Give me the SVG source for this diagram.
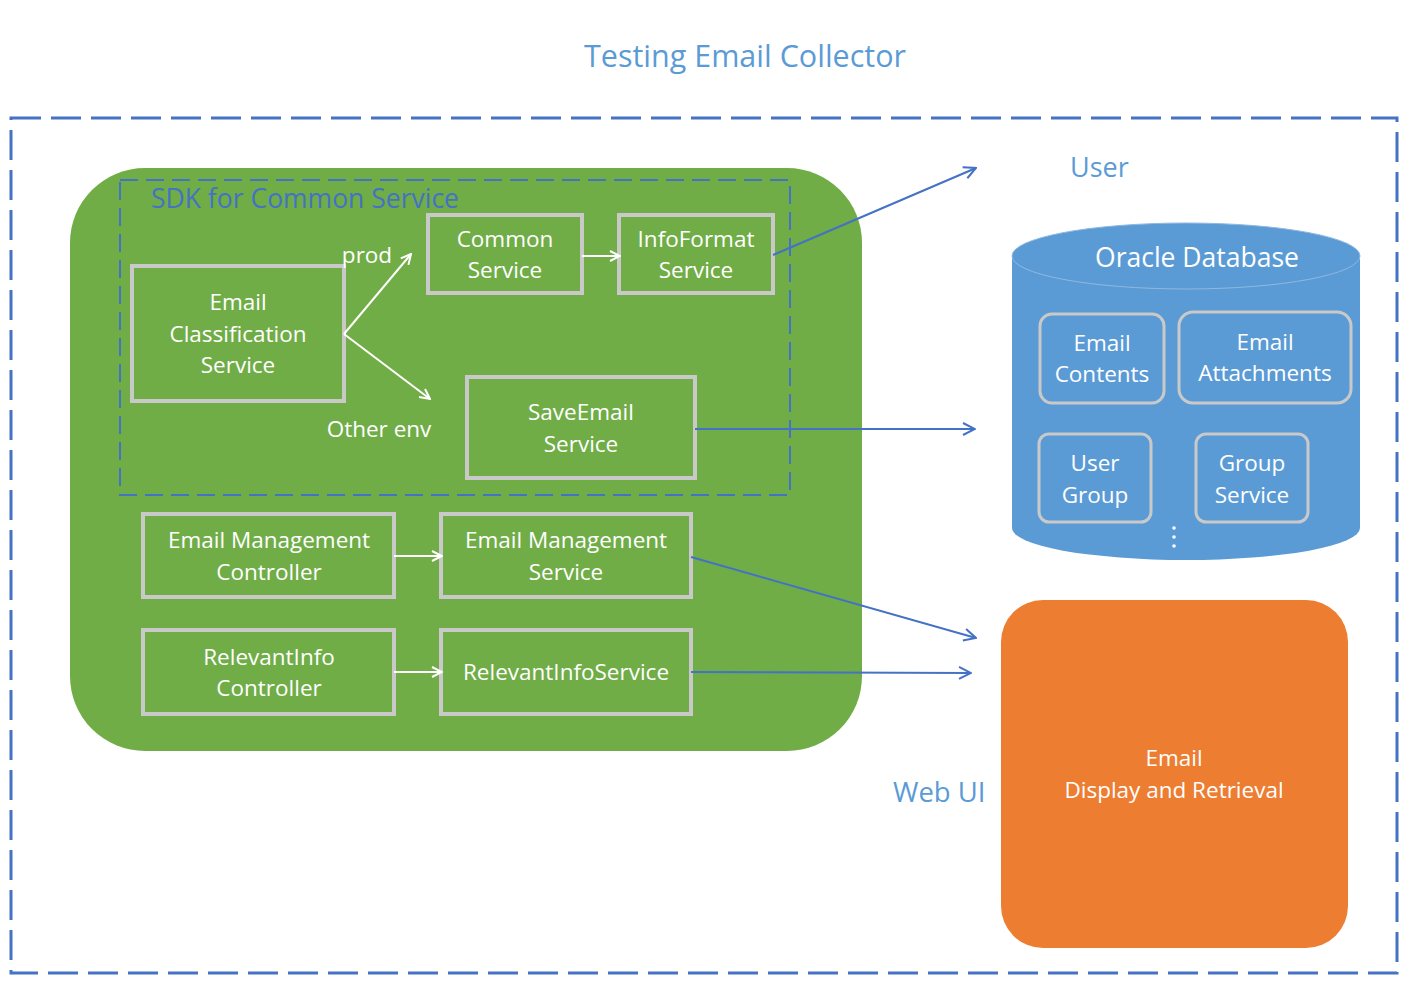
<svg xmlns="http://www.w3.org/2000/svg" width="1412" height="988" viewBox="0 0 1412 988">
<defs>
<style>
.t{font-family:"Open Sans","Noto Sans",sans-serif;font-size:22.5px;fill:#fff;text-anchor:middle}
.lbl{font-family:"Open Sans","Noto Sans",sans-serif;fill:#5B9BD5}
.box{fill:#70AD47;stroke:#C9C9C9;stroke-width:4}
.db{fill:#5B9BD5;stroke:#C9C9C9;stroke-width:3}
.wl{stroke:#fff;stroke-width:2;fill:none}
.bl{stroke:#4472C4;stroke-width:2;fill:none}
</style>
<marker id="aw" viewBox="0 0 12 12" refX="11" refY="6" markerWidth="12" markerHeight="12" markerUnits="userSpaceOnUse" orient="auto">
<path d="M1,1 L11,6 L1,11" fill="none" stroke="#fff" stroke-width="2"/>
</marker>
<marker id="ab" viewBox="0 0 14 14" refX="13" refY="7" markerWidth="14" markerHeight="14" markerUnits="userSpaceOnUse" orient="auto">
<path d="M1,1 L13,7 L1,13" fill="none" stroke="#4472C4" stroke-width="2"/>
</marker>
</defs>
<rect width="1412" height="988" fill="#fff"/>
<text class="lbl" x="745" y="67" font-size="30.5" text-anchor="middle">Testing Email Collector</text>
<rect x="11" y="118" width="1386" height="855" fill="none" stroke="#4472C4" stroke-width="3" stroke-dasharray="30,10"/>
<g id="platform">
<rect x="70" y="168" width="792" height="583" rx="75" ry="75" fill="#70AD47"/>
</g>
<g id="sdk">
<rect x="120" y="180" width="670" height="315" fill="none" stroke="#4472C4" stroke-width="2" stroke-dasharray="18,8"/>
<text x="151" y="208" font-family="Open Sans, Noto Sans, sans-serif" font-size="26.5" fill="#4472C4">SDK for Common Service</text>
</g>
<g id="ecs"><rect class="box" x="132" y="266" width="212" height="135"/>
<text class="t" x="238" y="310">Email</text><text class="t" x="238" y="342">Classification</text><text class="t" x="238" y="373">Service</text></g>
<g id="cs"><rect class="box" x="428" y="215" width="154" height="78"/>
<text class="t" x="505" y="247">Common</text><text class="t" x="505" y="278">Service</text></g>
<g id="ifs"><rect class="box" x="619" y="215" width="154" height="78"/>
<text class="t" x="696" y="247">InfoFormat</text><text class="t" x="696" y="278">Service</text></g>
<g id="ses"><rect class="box" x="467" y="377" width="228" height="101"/>
<text class="t" x="581" y="420">SaveEmail</text><text class="t" x="581" y="452">Service</text></g>
<g id="emc"><rect class="box" x="143" y="514" width="251" height="83"/>
<text class="t" x="269" y="548">Email Management</text><text class="t" x="269" y="580">Controller</text></g>
<g id="ems"><rect class="box" x="441" y="514" width="250" height="83"/>
<text class="t" x="566" y="548">Email Management</text><text class="t" x="566" y="580">Service</text></g>
<g id="ric"><rect class="box" x="143" y="630" width="251" height="84"/>
<text class="t" x="269" y="665">RelevantInfo</text><text class="t" x="269" y="696">Controller</text></g>
<g id="ris"><rect class="box" x="441" y="630" width="250" height="84"/>
<text class="t" x="566" y="680">RelevantInfoService</text></g>
<g id="oracle">
<path d="M1012,256 L1012,528 A174,32 0 0 0 1360,528 L1360,256 Z" fill="#5B9BD5"/>
<ellipse cx="1186" cy="256" rx="174" ry="33" fill="#5B9BD5" stroke="#8FB8E0" stroke-width="1"/>
<text x="1197" y="267" font-family="Open Sans, Noto Sans, sans-serif" font-size="26.5" fill="#fff" text-anchor="middle">Oracle Database</text>
<rect class="db" x="1040" y="314" width="124" height="89" rx="12"/>
<text class="t" x="1102" y="351">Email</text><text class="t" x="1102" y="382">Contents</text>
<rect class="db" x="1179" y="312" width="172" height="91" rx="14"/>
<text class="t" x="1265" y="350">Email</text><text class="t" x="1265" y="381">Attachments</text>
<rect class="db" x="1039" y="434" width="112" height="88" rx="10"/>
<text class="t" x="1095" y="471">User</text><text class="t" x="1095" y="503">Group</text>
<rect class="db" x="1196" y="434" width="112" height="88" rx="10"/>
<text class="t" x="1252" y="471">Group</text><text class="t" x="1252" y="503">Service</text>
<circle cx="1174" cy="528" r="1.8" fill="#fff"/><circle cx="1174" cy="537" r="1.8" fill="#fff"/><circle cx="1174" cy="546" r="1.8" fill="#fff"/>
</g>
<g id="webui">
<rect x="1001" y="600" width="347" height="348" rx="42" fill="#ED7D31"/>
<text class="t" x="1174" y="766">Email</text>
<text class="t" x="1174" y="798">Display and Retrieval</text>
</g>
<text class="lbl" x="1070" y="177" font-size="27">User</text>
<text class="lbl" x="893" y="802" font-size="27.5">Web UI</text>
<g id="connectors">
<line class="wl" x1="344" y1="334" x2="411" y2="254" marker-end="url(#aw)"/>
<line class="wl" x1="344" y1="334" x2="430" y2="399" marker-end="url(#aw)"/>
<line class="wl" x1="582" y1="256" x2="620" y2="256" marker-end="url(#aw)"/>
<line class="wl" x1="394" y1="556" x2="442" y2="556" marker-end="url(#aw)"/>
<line class="wl" x1="394" y1="672" x2="442" y2="672" marker-end="url(#aw)"/>
<line class="bl" x1="773" y1="255" x2="976" y2="168" marker-end="url(#ab)"/>
<line class="bl" x1="695" y1="429" x2="975" y2="429" marker-end="url(#ab)"/>
<line class="bl" x1="691" y1="557" x2="976" y2="638" marker-end="url(#ab)"/>
<line class="bl" x1="691" y1="672" x2="971" y2="673" marker-end="url(#ab)"/>
<text class="t" x="367" y="263">prod</text>
<text class="t" x="379" y="437">Other env</text>
</g>
</svg>
